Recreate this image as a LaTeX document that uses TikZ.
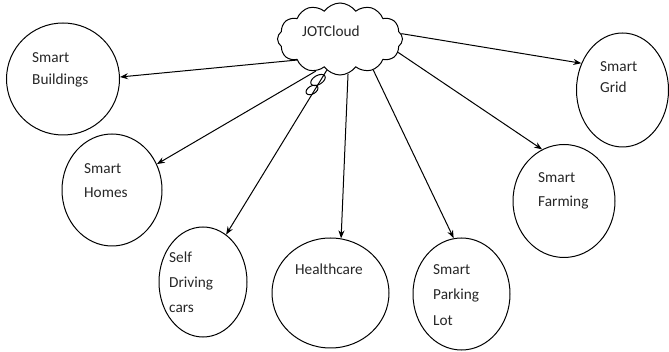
\documentclass[tikz,border=0pt]{standalone}
\usepackage{fontspec}
\setmainfont{Carlito}
\usetikzlibrary{shapes.symbols,shapes.geometric,arrows.meta}
\begin{document}
\begin{tikzpicture}[x=1pt,y=-1pt,
  bub/.style={draw,ellipse,line width=1pt,inner sep=0pt},
  lbl/.style={anchor=north west,inner sep=0pt,align=left,font=\fontsize{15.3}{24}\selectfont,text=black!85},
  arr/.style={draw,line width=1pt,-{Stealth[length=8pt,width=6pt]}}]
\useasboundingbox (0,0) rectangle (669,352);
% cloud
\node[cloud,draw,line width=1pt,cloud puffs=12,cloud puff arc=110,aspect=1.75,
      minimum width=125pt,minimum height=72pt,inner sep=0pt] (c) at (340,39) {};
\node[inner sep=0pt,font=\fontsize{15.3}{17}\selectfont,text=black!85] (jt) at (331,31) {JOTCloud};
\node[bub,minimum width=16pt,minimum height=9pt,rotate=30] (tb1) at (318,80) {};
\node[bub,minimum width=13pt,minimum height=8pt,rotate=30] (tb2) at (312,90) {};
% ellipses
\node[bub,minimum width=113pt,minimum height=112pt] (b) at (63,79) {};
\node[bub,minimum width=100pt,minimum height=112pt] (h) at (112,190) {};
\node[bub,minimum width=88pt,minimum height=110pt] (s) at (203,282) {};
\node[bub,minimum width=117pt,minimum height=110pt] (hc) at (330.5,293) {};
\node[bub,minimum width=97pt,minimum height=112pt] (p) at (461.5,294) {};
\node[bub,minimum width=102pt,minimum height=113pt] (f) at (564,201) {};
\node[bub,minimum width=92pt,minimum height=114pt] (g) at (622.5,90) {};
% labels
\node[lbl,font=\fontsize{15.3}{22}\selectfont] (tb) at (32,52) {Smart\\Buildings};
\node[lbl] (th) at (84,163) {Smart\\Homes};
\node[lbl,font=\fontsize{15.3}{25}\selectfont] (ts) at (169,252) {Self\\Driving\\cars};
\node[lbl] (thc) at (295,264) {Healthcare};
\node[lbl,font=\fontsize{15.3}{25.5}\selectfont] (tp) at (433,264) {Smart\\Parking\\Lot};
\node[lbl] (tf) at (538,172) {Smart\\Farming};
\node[lbl,font=\fontsize{15.3}{21}\selectfont] (tg) at (600,61) {Smart\\Grid};
% arrows
\draw[arr] (c.206) -- (b.2);
\draw[arr] (c.233) -- (h.30);
\draw[arr] (c.247) -- (s.64);
\draw[arr] (c.283) -- (hc.79);
\draw[arr] (c.317) -- (p.98);
\draw[arr] (c.347) -- (f.113);
\draw[arr] (c.5) -- (g.147);
\end{tikzpicture}
\end{document}
